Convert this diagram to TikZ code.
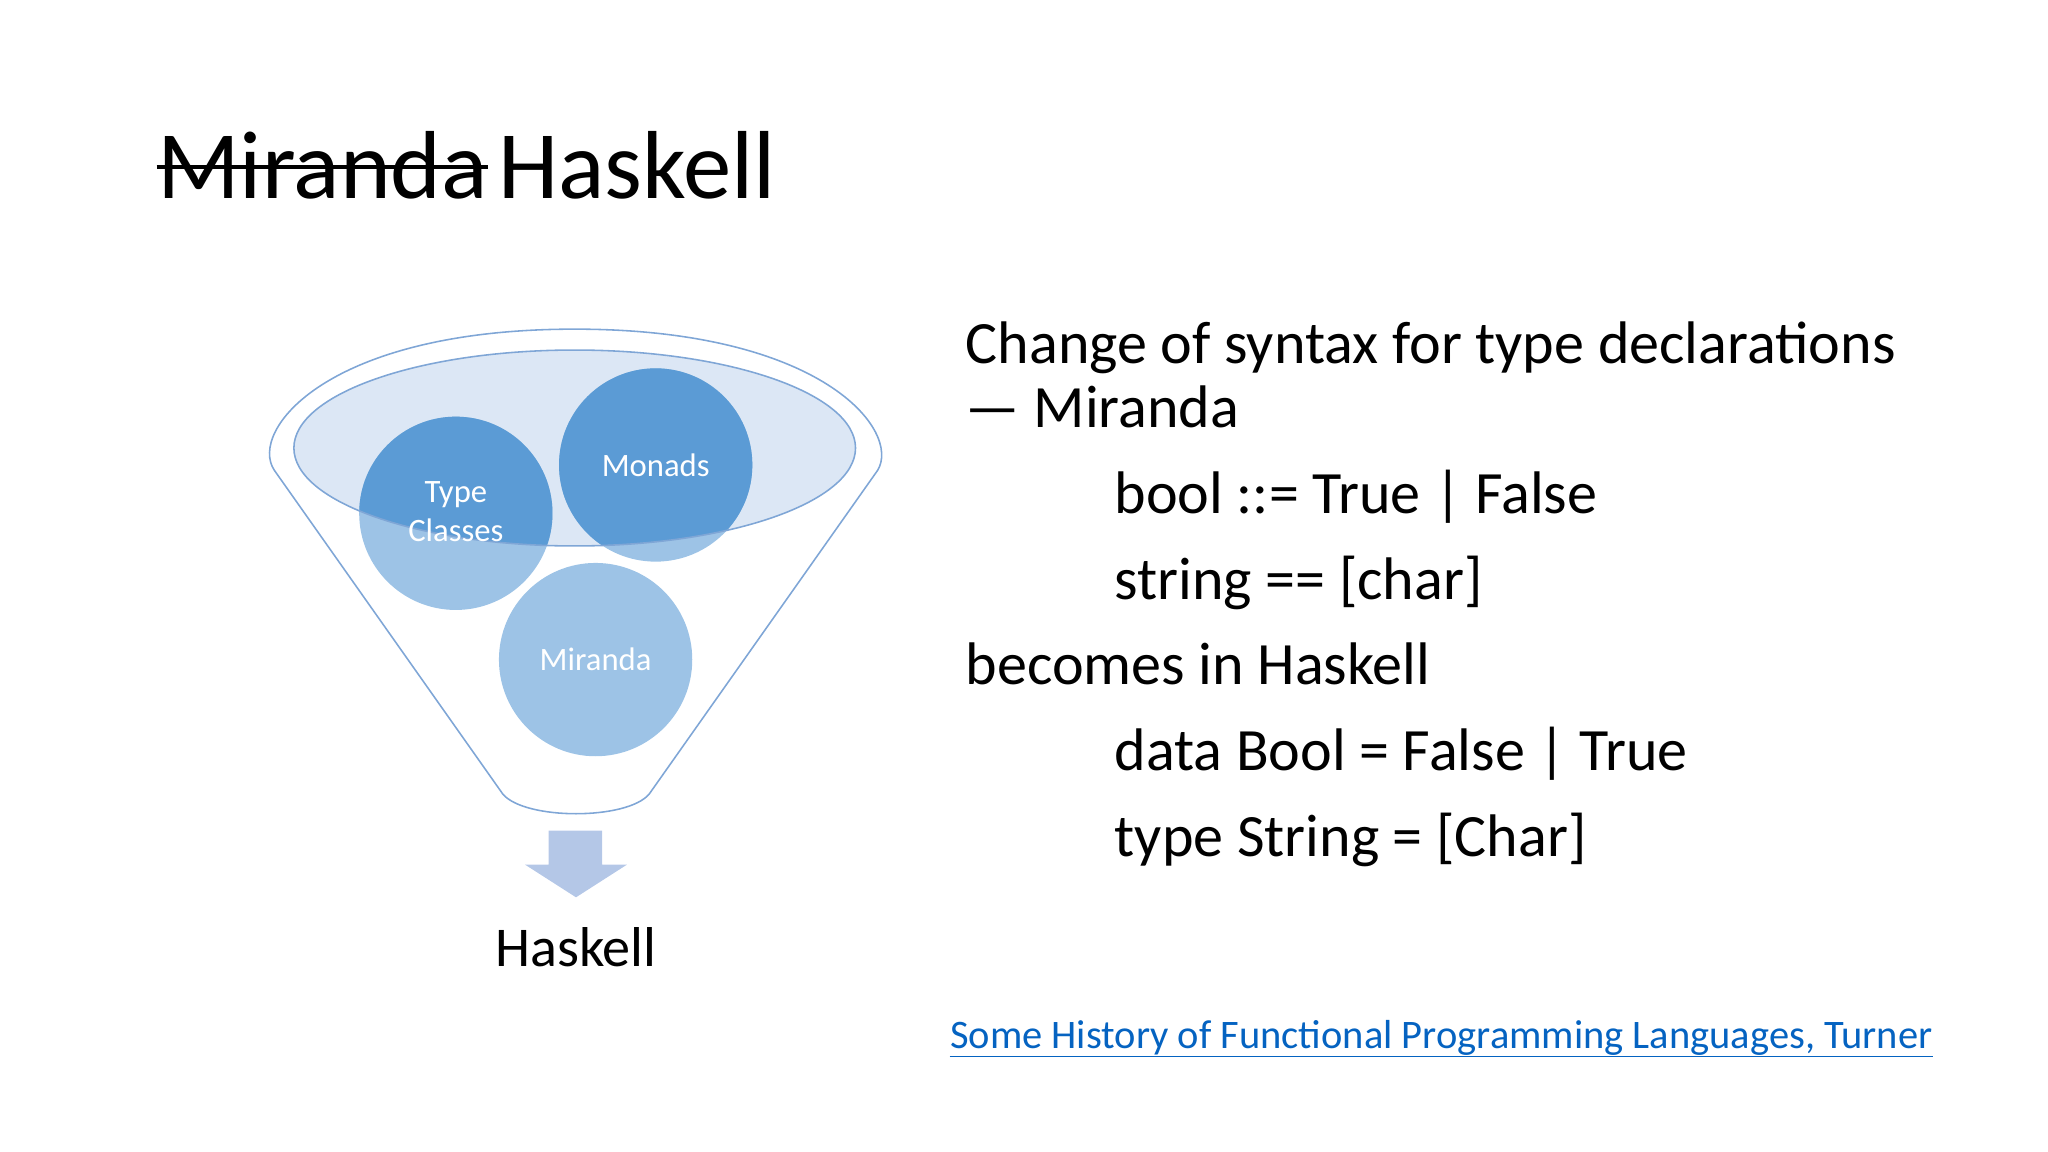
\documentclass[tikz,border=0pt]{standalone}
\usepackage{fontspec}
\setmainfont{Carlito}
\begin{document}
\begin{tikzpicture}[x=0.5pt,y=-0.5pt,
  txt/.style={anchor=base west,inner sep=0pt,font=\fontsize{23}{27}\selectfont},
  clab/.style={text=white,align=center,font=\fontsize{12.5}{15}\selectfont},
  rim/.style={draw=funnelline,line width=0.6pt}]
\definecolor{funnelline}{HTML}{7FA6D6}
\definecolor{darkc}{HTML}{5B9BD5}
\definecolor{lightc}{HTML}{9DC3E6}
\definecolor{ellfill}{HTML}{DCE7F5}
\definecolor{arrowc}{HTML}{B4C7E7}
\definecolor{linkc}{HTML}{0563C1}
\useasboundingbox (0,0) rectangle (1568,882);
% title
\node[txt,font=\fontsize{37}{44}\selectfont] (mir) at (120,152) {Miranda};
\node[txt,font=\fontsize{37}{44}\selectfont] (hs) at (381,152) {Haskell};
\draw[line width=1.3pt] (mir.west |- 0,128) -- (mir.east |- 0,128);
% funnel
\draw[rim] (210,360) .. controls (190,330) and (250,252) .. (440,252)
  .. controls (630,252) and (690,330) .. (672,360) -- (497,608)
  .. controls (480,628) and (402,628) .. (385,608) -- cycle;
\fill[ellfill] (440,343) ellipse [x radius=215, y radius=75];
\fill[lightc] (349,393) circle (74);
\fill[lightc] (502,356) circle (74);
\fill[lightc] (456,505) circle (74);
\begin{scope}
\clip (440,343) ellipse [x radius=215, y radius=75];
\fill[darkc] (349,393) circle (74);
\fill[darkc] (502,356) circle (74);
\end{scope}
\draw[rim] (440,343) ellipse [x radius=215, y radius=75];
\node[clab] (tc) at (349,392) {Type\\Classes};
\node[clab] (mo) at (502,356) {Monads};
\node[clab] (mi) at (456,505) {Miranda};
% arrow
\fill[arrowc] (420,636) -- (461,636) -- (461,662) -- (480,662) -- (441,687) -- (402,662) -- (420,662) -- cycle;
\node[txt,anchor=base,font=\fontsize{21.5}{26}\selectfont] (hk) at (441,740) {Haskell};
% right text
\node[txt] (l1) at (739,278) {Change of syntax for type declarations};
\node[txt] (l2) at (739,327) {— Miranda};
\node[txt] (l3) at (853,393) {bool ::= True | False};
\node[txt] (l4) at (853,459) {string == [char]};
\node[txt] (l5) at (739,524) {becomes in Haskell};
\node[txt] (l6) at (853,590) {data Bool = False | True};
\node[txt] (l7) at (853,656) {type String = [Char]};
\node[txt,text=linkc,font=\fontsize{15.5}{19}\selectfont] (lk) at (727,803) {Some History of Functional Programming Languages, Turner};
\draw[linkc,line width=0.6pt] ([yshift=-3pt]lk.base west) -- ([yshift=-3pt]lk.base east);
\end{tikzpicture}
\end{document}
